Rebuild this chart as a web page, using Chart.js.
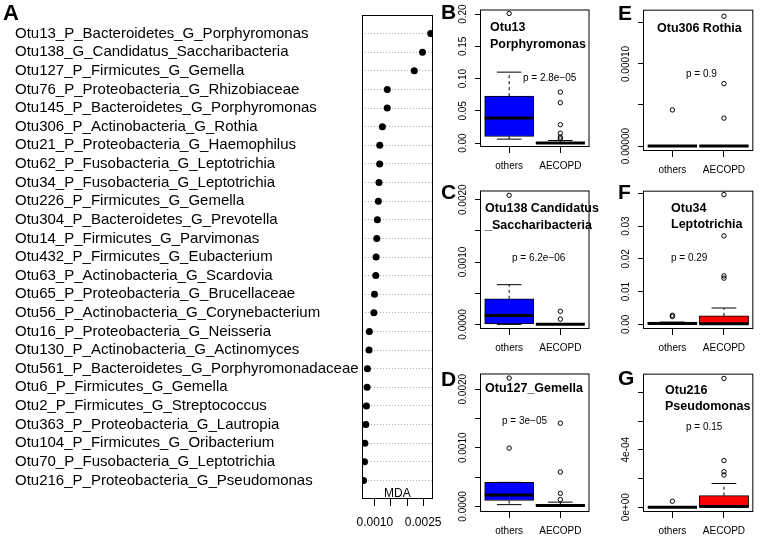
<!DOCTYPE html>
<html>
<head>
<meta charset="utf-8">
<script src="https://cdn.jsdelivr.net/npm/chart.js@4.4.0/dist/chart.umd.min.js"></script>
<style>
  body { margin: 0; background: #fff; width: 778px; height: 536px; overflow: hidden; position: relative; font-family: 'Liberation Sans', Arial, sans-serif; }
  canvas { position: absolute; }
  .t { position: absolute; white-space: nowrap; line-height: 1; transform: translateY(-50%); color: #000; }
  .lt { font-weight: bold; font-size: 21px; }
  .la { font-weight: bold; font-size: 22px; }
  .ti { font-weight: bold; font-size: 12.5px; }
  .pv { font-size: 10px; }
  .md { font-size: 12px; }
</style>
</head>
<body>
<script>
// panel A - mean decrease accuracy of the top OTUs
const mdaNames = [
  'Otu13_P_Bacteroidetes_G_Porphyromonas',
  'Otu138_G_Candidatus_Saccharibacteria',
  'Otu127_P_Firmicutes_G_Gemella',
  'Otu76_P_Proteobacteria_G_Rhizobiaceae',
  'Otu145_P_Bacteroidetes_G_Porphyromonas',
  'Otu306_P_Actinobacteria_G_Rothia',
  'Otu21_P_Proteobacteria_G_Haemophilus',
  'Otu62_P_Fusobacteria_G_Leptotrichia',
  'Otu34_P_Fusobacteria_G_Leptotrichia',
  'Otu226_P_Firmicutes_G_Gemella',
  'Otu304_P_Bacteroidetes_G_Prevotella',
  'Otu14_P_Firmicutes_G_Parvimonas',
  'Otu432_P_Firmicutes_G_Eubacterium',
  'Otu63_P_Actinobacteria_G_Scardovia',
  'Otu65_P_Proteobacteria_G_Brucellaceae',
  'Otu56_P_Actinobacteria_G_Corynebacterium',
  'Otu16_P_Proteobacteria_G_Neisseria',
  'Otu130_P_Actinobacteria_G_Actinomyces',
  'Otu561_P_Bacteroidetes_G_Porphyromonadaceae',
  'Otu6_P_Firmicutes_G_Gemella',
  'Otu2_P_Firmicutes_G_Streptococcus',
  'Otu363_P_Proteobacteria_G_Lautropia',
  'Otu104_P_Firmicutes_G_Oribacterium',
  'Otu70_P_Fusobacteria_G_Leptotrichia',
  'Otu216_P_Proteobacteria_G_Pseudomonas'
]
const mdaValues = [
  0.002735, 0.00248, 0.002224, 0.001388, 0.001385, 0.001235, 0.001153, 0.00115,
  0.00113, 0.00111, 0.00108, 0.00106, 0.00104, 0.00103, 0.00099, 0.00097,
  0.00083, 0.00082, 0.00077, 0.00076, 0.00074, 0.00072, 0.00069, 0.00068, 0.00065
]
const mdaTicks = [0.0010, 0.0015, 0.0020, 0.0025]
const mdaTickLabels = ['0.0010', '', '', '0.0025']

// boxplots: [lower whisker, q1, median, q3, upper whisker]
const groups = ['others', 'AECOPD']

const otu13Others = [0.0061, 0.0102, 0.0387, 0.0728, 0.110]
const otu13Aecopd = [0, 0, 0.0002, 0.0012, 0.004]
const otu13OutOthers = [0.201]
const otu13OutAecopd = [0.079, 0.0626, 0.0285, 0.0153, 0.0092, 0.0066]
const otu13Ticks = [0, 0.05, 0.10, 0.15, 0.20]
const otu13TickLabels = ['0.00', '0.05', '0.10', '0.15', '0.20']

const otu138Others = [0, 0, 0.000142, 0.00041, 0.000637]
const otu138Aecopd = [0, 0, 0, 0, 0]
const otu138OutOthers = [0.00207]
const otu138OutAecopd = [0.00021, 0.000084]
const otu138Ticks = [0, 0.0005, 0.0010, 0.0015, 0.0020]
const otu138TickLabels = ['0.0000', '', '0.0010', '', '0.0020']

const otu127Others = [0.00003, 0.0001, 0.000196, 0.00041, 0.00041]
const otu127Aecopd = [0, 0, 0.000015, 0.00003, 0.000073]
const otu127OutOthers = [0.000994, 0.00219]
const otu127OutAecopd = [0.000117, 0.000223, 0.000587, 0.00142]
const otu127Ticks = [0, 0.0005, 0.0010, 0.0015, 0.0020]
const otu127TickLabels = ['0.0000', '', '0.0010', '', '0.0020']

const otu306Others = [0, 0, 0, 0, 0]
const otu306Aecopd = [0, 0, 0, 0, 0]
const otu306OutOthers = [0.000044]
const otu306OutAecopd = [0.000158, 0.000076, 0.000034]
const otu306Ticks = [0, 0.00005, 0.00010, 0.00015]
const otu306TickLabels = ['0.00000', '', '0.00010', '']

const otu34Others = [0, 0, 0.0003, 0.0007, 0.0007]
const otu34Aecopd = [0, 0, 0.0002, 0.0026, 0.005]
const otu34OutOthers = [0.0028, 0.0024]
const otu34OutAecopd = [0.0396, 0.027, 0.0148, 0.0141]
const otu34Ticks = [0, 0.01, 0.02, 0.03, 0.04]
const otu34TickLabels = ['0.00', '0.01', '0.02', '0.03', '']

const otu216Others = [0, 0, 0, 0, 0]
const otu216Aecopd = [0, 0, 0.000005, 0.00008, 0.000165]
const otu216OutOthers = [0.000041]
const otu216OutAecopd = [0.000898, 0.000325, 0.000247, 0.000224]
const otu216Ticks = [0, 0.0002, 0.0004, 0.0006, 0.0008]
const otu216TickLabels = ['0e+00', '', '4e-04', '', '']

const FONT = "'Liberation Sans', Arial, sans-serif"
Chart.defaults.font.family = FONT
Chart.defaults.color = '#000'

// R style box round the plot region
Chart.register({
  id: 'frame',
  afterDraw(c) {
    const a = c.chartArea
    const ctx = c.ctx
    ctx.save()
    ctx.strokeStyle = '#000'
    ctx.lineWidth = 1
    ctx.strokeRect(a.left + 0.5, a.top + 0.5, a.right - a.left - 1, a.bottom - a.top - 1)
    ctx.restore()
  }
})

function addCanvas(left, top, w, h) {
  const cv = document.createElement('canvas')
  cv.width = w
  cv.height = h
  cv.style.left = left + 'px'
  cv.style.top = top + 'px'
  document.body.appendChild(cv)
  return cv
}

const tickGrid = { display: true, drawOnChartArea: false, drawTicks: true, color: '#000' }

// ---- panel A dot chart
{
  const l = 362, t = 15, r = 433, b = 499
  const padL = 15, padR = 30, xh = 37
  const cv = addCanvas(0, 0, b - t, 10)
  cv.width = padL + (l - padL) + (r - l) + padR
  cv.height = t + (b - t) + xh
  const n = mdaNames.length
  new Chart(cv, {
    type: 'scatter',
    data: {
      datasets: [{
        data: mdaValues.map((v, i) => ({ x: v, y: n - i })),
        pointRadius: 3.5,
        pointBackgroundColor: '#000',
        pointBorderColor: '#000',
        pointBorderWidth: 0
      }]
    },
    options: {
      responsive: false, animation: false, devicePixelRatio: 1,
      layout: { padding: { left: padL, top: t, right: padR, bottom: 0 } },
      plugins: { legend: { display: false }, tooltip: { enabled: false } },
      scales: {
        x: {
          type: 'linear', min: 0.000602, max: 0.002806,
          afterBuildTicks: s => { s.ticks = mdaTicks.map(v => ({ value: v })) },
          afterFit: s => { s.height = xh },
          ticks: { callback: (v, i) => mdaTickLabels[i], font: { size: 12 }, padding: 9, maxRotation: 0, autoSkip: false },
          grid: { ...tickGrid, tickLength: 7 },
          border: { display: false }
        },
        y: {
          type: 'linear', min: 0, max: n + 1,
          afterBuildTicks: s => { s.ticks = mdaNames.map((m, i) => ({ value: n - i })) },
          afterFit: s => { s.width = l - padL },
          ticks: { callback: (v, i) => mdaNames[i], crossAlign: 'far', font: { size: 15 }, padding: 0, autoSkip: false },
          grid: { display: true, drawTicks: false, color: '#b0b0b0', lineWidth: 1 },
          border: { display: false, dash: [1, 2] }
        }
      }
    }
  })
}

// ---- panels B..G boxplots
const XMIN = 0.43, XMAX = 2.57
const panels = [
  { area: [480, 7, 611, 147], yr: [-0.0061, 0.2072], stats: [otu13Others, otu13Aecopd], out: [otu13OutOthers, otu13OutAecopd], ticks: otu13Ticks, labels: otu13TickLabels },
  { area: [480, 188, 611, 329], yr: [-0.0000742, 0.002148], stats: [otu138Others, otu138Aecopd], out: [otu138OutOthers, otu138OutAecopd], ticks: otu138Ticks, labels: otu138TickLabels },
  { area: [480, 371, 611, 512], yr: [-0.0000956, 0.002268], stats: [otu127Others, otu127Aecopd], out: [otu127OutOthers, otu127OutAecopd], ticks: otu127Ticks, labels: otu127TickLabels },
  { area: [643, 7, 775, 151], yr: [-0.000006, 0.000166], stats: [otu306Others, otu306Aecopd], out: [otu306OutOthers, otu306OutAecopd], ticks: otu306Ticks, labels: otu306TickLabels },
  { area: [643, 188, 775, 329], yr: [-0.00141, 0.0408], stats: [otu34Others, otu34Aecopd], out: [otu34OutOthers, otu34OutAecopd], ticks: otu34Ticks, labels: otu34TickLabels },
  { area: [643, 371, 775, 512], yr: [-0.000034, 0.000931], stats: [otu216Others, otu216Aecopd], out: [otu216OutOthers, otu216OutAecopd], ticks: otu216Ticks, labels: otu216TickLabels }
]
const boxColors = ['#0000ff', '#ff0000']

const measure = document.createElement('canvas').getContext('2d')
measure.font = '10px ' + FONT

function makeBox(p) {
  const [l, t, r, b] = p.area
  const YW = 45, PT = 25, PR = 6, XH = 32
  const cv = addCanvas(l - YW, t - PT, YW + (r - l) + PR, PT + (b - t) + XH)
  const boxPx = 0.8 * (r - l) / (XMAX - XMIN)
  const widest = Math.max(...p.labels.map(s => measure.measureText(s).width))
  const ypad = 12 - widest / 2

  const datasets = [{
    type: 'bar', order: 5,
    data: groups.map((g, i) => ({ x: i + 1, y: [p.stats[i][1], p.stats[i][3]] })),
    backgroundColor: boxColors, borderColor: '#000', borderWidth: 1, borderSkipped: false,
    barThickness: boxPx
  }]
  groups.forEach((g, i) => {
    const [lo, q1, med, q3, hi] = p.stats[i]
    const x = i + 1
    const seg = { type: 'line', order: 4, borderColor: '#000', borderWidth: 1, borderDash: [3, 3], pointRadius: 0 }
    datasets.push({ ...seg, data: [{ x, y: q3 }, { x, y: hi }] })
    datasets.push({ ...seg, data: [{ x, y: q1 }, { x, y: lo }] })
    datasets.push({
      type: 'line', order: 3, showLine: false, data: [{ x, y: lo }, { x, y: hi }],
      pointStyle: 'line', pointRadius: boxPx / 4, pointBorderWidth: 1, pointBorderColor: '#000'
    })
    datasets.push({
      type: 'line', order: 2, showLine: false, data: [{ x, y: med }],
      pointStyle: 'line', pointRadius: boxPx / 2, pointBorderWidth: 3, pointBorderColor: '#000'
    })
    datasets.push({
      type: 'line', order: 1, showLine: false, data: p.out[i].map(v => ({ x, y: v })),
      pointStyle: 'circle', pointRadius: 2.2, pointBorderWidth: 1, pointBorderColor: '#000',
      pointBackgroundColor: 'rgba(0,0,0,0)'
    })
  })

  new Chart(cv, {
    type: 'bar',
    data: { datasets },
    options: {
      responsive: false, animation: false, devicePixelRatio: 1,
      layout: { padding: { left: 0, top: PT, right: PR, bottom: 0 } },
      plugins: { legend: { display: false }, tooltip: { enabled: false } },
      scales: {
        x: {
          type: 'linear', min: XMIN, max: XMAX, offset: false,
          afterBuildTicks: s => { s.ticks = groups.map((g, i) => ({ value: i + 1 })) },
          afterFit: s => { s.height = XH },
          ticks: { callback: (v, i) => groups[i], font: { size: 10 }, padding: 7, maxRotation: 0, autoSkip: false },
          grid: { ...tickGrid, tickLength: 6, offset: false },
          border: { display: false }
        },
        y: {
          type: 'linear', min: p.yr[0], max: p.yr[1],
          afterBuildTicks: s => { s.ticks = p.ticks.map(v => ({ value: v })) },
          afterFit: s => { s.width = YW },
          ticks: { callback: (v, i) => p.labels[i], minRotation: 90, maxRotation: 90, crossAlign: 'center', padding: ypad, font: { size: 10 }, autoSkip: false },
          grid: { ...tickGrid, tickLength: 5 },
          border: { display: false }
        }
      }
    }
  })
}
panels.forEach(makeBox)

// letters, panel titles and p values
const notes = [
  ['A', 3, 13, 'la'], ['B', 441, 11, 'lt'], ['C', 441, 191, 'lt'], ['D', 441, 378, 'lt'],
  ['E', 618, 12, 'lt'], ['F', 618, 191, 'lt'], ['G', 618, 377, 'lt'],
  ['Otu13', 490, 27, 'ti'], ['Porphyromonas', 490, 44, 'ti'],
  ['Otu138 Candidatus', 485, 208, 'ti'], ['_Saccharibacteria', 485, 225, 'ti'],
  ['Otu127_Gemella', 485, 388, 'ti'],
  ['Otu306 Rothia', 657, 28, 'ti'],
  ['Otu34', 671, 208, 'ti'], ['Leptotrichia', 671, 224, 'ti'],
  ['Otu216', 665, 390, 'ti'], ['Pseudomonas', 665, 406, 'ti'],
  ['p = 2.8e\u221205', 523, 78, 'pv'], ['p = 6.2e\u221206', 512, 258, 'pv'], ['p = 3e\u221205', 502, 421, 'pv'],
  ['p = 0.9', 686, 74, 'pv'], ['p = 0.29', 671, 258, 'pv'], ['p = 0.15', 686, 427, 'pv'],
  ['MDA', 384, 493, 'md']
]
notes.forEach(([txt, x, y, cls]) => {
  const d = document.createElement('div')
  d.className = 't ' + cls
  d.textContent = txt
  d.style.left = x + 'px'
  d.style.top = y + 'px'
  document.body.appendChild(d)
})
</script>
</body>
</html>
